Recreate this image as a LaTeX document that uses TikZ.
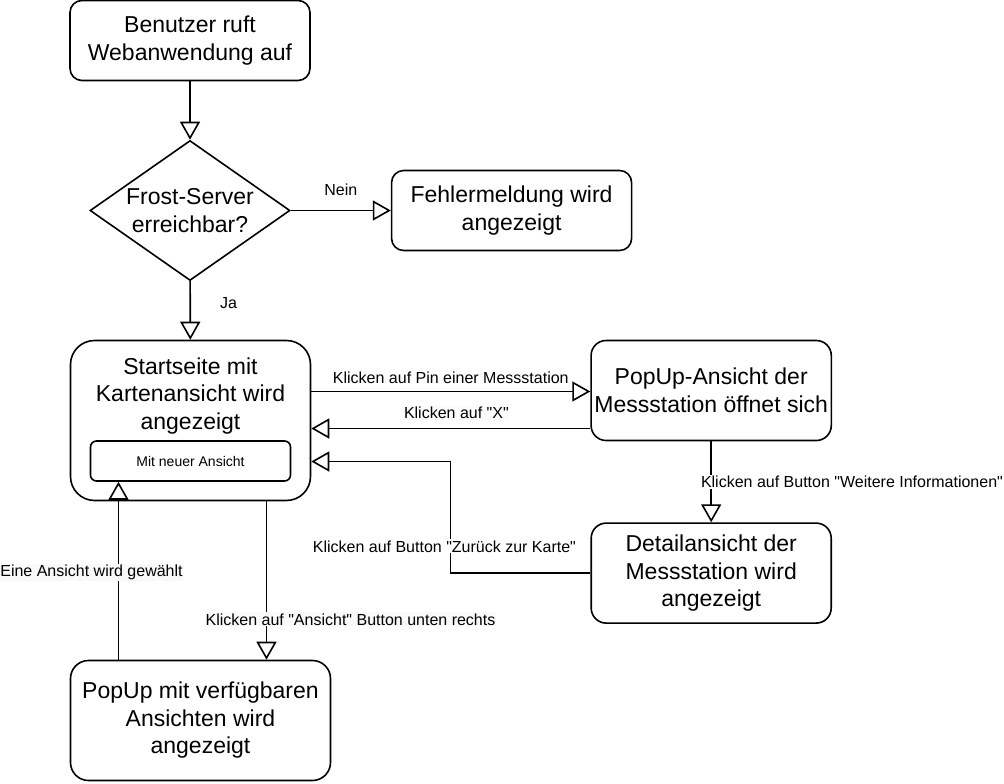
\documentclass[tikz,border=0pt]{standalone}
\usepackage{fontspec}
\setmainfont{Liberation Sans}
\usetikzlibrary{arrows.meta, positioning, shapes.geometric}
\definecolor{labelbg}{RGB}{248,249,250}
\tikzset{
    x=1pt, y=-1pt, % one unit is one pixel of the reference, y goes down
    every path/.style={line width=1.6pt},
    flow/.style={-{Triangle[length=18pt, width=20pt, fill=white]}}, % open arrow heads
    box/.style={draw, rounded corners=#1, fill=white, align=center,
        font=\fontsize{23}{27.5}\selectfont}, % the rounded boxes
    box/.default=12pt,
    decision/.style={draw, diamond, fill=white, align=center, inner sep=0pt,
        minimum width=200pt, minimum height=140pt, aspect=1.43,
        font=\fontsize{23}{27.5}\selectfont},
    edgelabel/.style={font=\fontsize{16}{19}\selectfont, inner sep=1pt}, % text on the connectors
}
\begin{document}
\begin{tikzpicture}
\useasboundingbox (0,0) rectangle (1004,784);
\node[box, minimum width=240pt, minimum height=80pt] (start) at (190,40.5) {Benutzer ruft\\Webanwendung auf};
\node[decision] (check) at (190,210.5) {Frost-Server\\erreichbar?};
\node[box, minimum width=240pt, minimum height=80pt, right=100pt of check] (error) {Fehlermeldung wird\\angezeigt};
\node[box=24pt, minimum width=240pt, minimum height=160pt] (home) at (190.5,420.5) {};
\node[box, draw=none, fill=none] (hometext) at ([yshift=-56pt]home.north) {Startseite mit\\Kartenansicht wird\\angezeigt};
\node[box=6pt, minimum width=200pt, minimum height=40pt, font=\fontsize{14}{17}\selectfont] (choice) at (190.5,461) {Mit neuer Ansicht};
\node[box=15pt, minimum width=240pt, minimum height=100pt, right=279pt of home.north east, anchor=north west] (popup) {PopUp-Ansicht der\\Messstation öffnet sich};
\node[box=15pt, minimum width=240pt, minimum height=100pt, below=81pt of popup] (detail) {Detailansicht der\\Messstation wird\\angezeigt};
\node[box=18pt, minimum width=260pt, minimum height=120pt] (views) at (200.5,720.5) {PopUp mit verfügbaren\\Ansichten wird\\angezeigt};

\draw[flow] (start) -- (check);
\draw[flow] (check) -- node[edgelabel, above=13pt] {Nein} (error);
\draw[flow] (check) -- node[edgelabel, right=28pt, pos=0.38] {Ja} (home);
\draw[flow] ([yshift=29pt]home.east) -- node[edgelabel, above=6pt] {Klicken auf Pin einer Messstation} ([yshift=29pt]home.east -| popup.west);
\draw[flow] ([yshift=-38pt]popup.west) -- node[edgelabel, above=8pt, pos=0.48, fill=labelbg, fill opacity=0.7, text opacity=1] {Klicken auf \textquotedbl X\textquotedbl} ([yshift=-38pt]popup.west -| home.east);
\draw[flow] (popup) -- node[edgelabel, anchor=west, xshift=-12pt, fill=white] {Klicken auf Button \textquotedbl Weitere Informationen\textquotedbl} (detail);
\draw[flow] (detail.west) -- ++(-140,0) |- node[edgelabel, pos=0.12, xshift=-6pt, fill=white] {Klicken auf Button \textquotedbl Zurück zur Karte\textquotedbl} ([yshift=-41pt]home.east);
\draw[flow] ([xshift=76pt]home.south) -- node[edgelabel, pos=0.745, xshift=84pt, fill=labelbg] {Klicken auf \textquotedbl Ansicht\textquotedbl{} Button unten rechts} ([xshift=76pt]home.south |- views.north);
\draw[flow] ([xshift=-82pt]views.north) -- node[edgelabel, pos=0.49, xshift=-27pt, fill=labelbg] {Eine Ansicht wird gewählt} ([xshift=-82pt]views.north |- choice.south);
\end{tikzpicture}
\end{document}
